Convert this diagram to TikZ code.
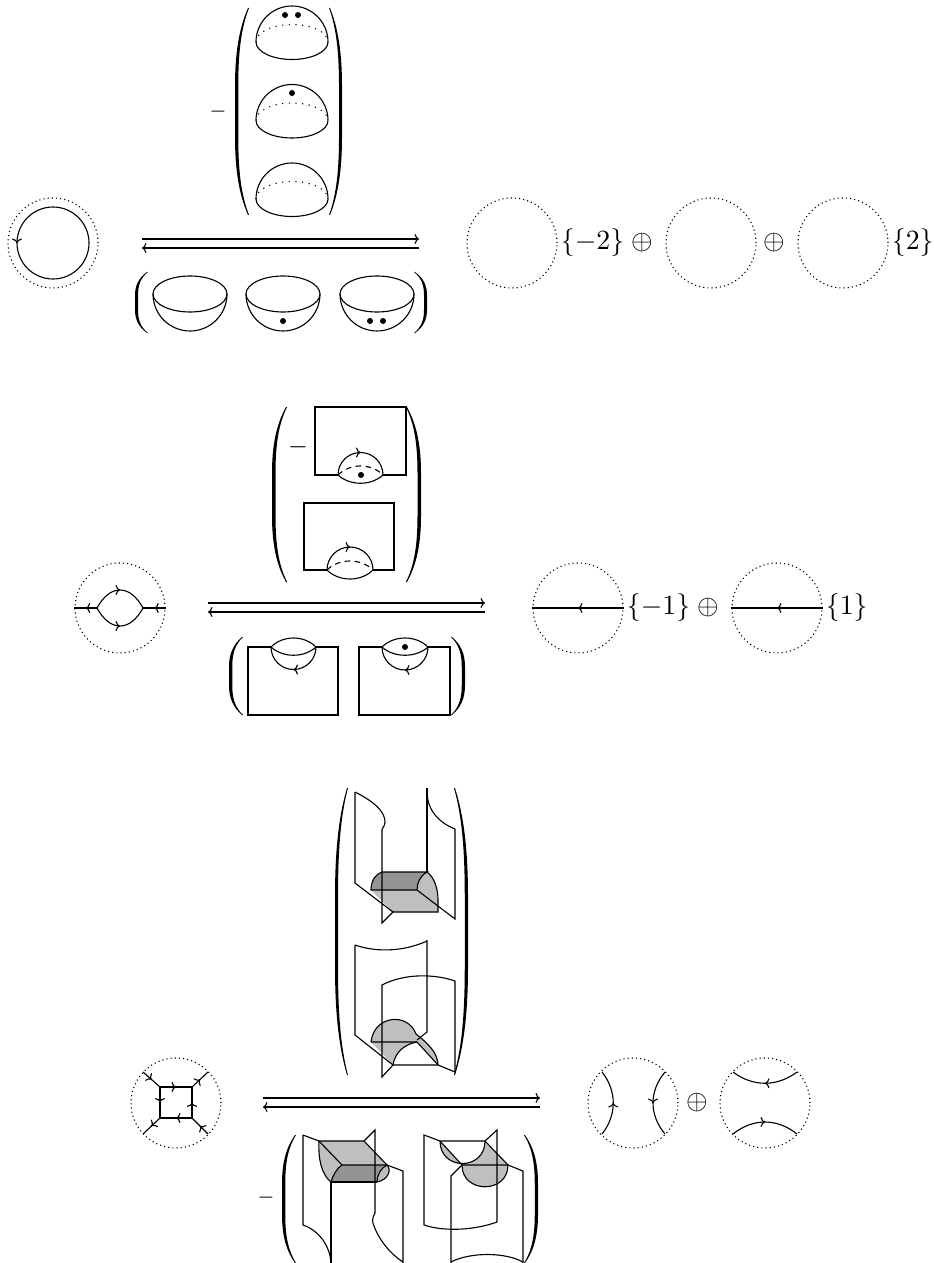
\documentclass[tikz,border=0pt]{standalone}
\usepackage{amsmath,amssymb}
\usetikzlibrary{arrows.meta,decorations.markings}

\newcommand{\bigpar}[4]{%
  \fill ({#1+#4},#2) .. controls ({#1+0.3*(#4)},{#2+0.1*(#3-#2)}) and (#1,{#2+0.22*(#3-#2)}) .. (#1,{#2+0.38*(#3-#2)})
    -- (#1,{#2+0.62*(#3-#2)}) .. controls (#1,{#2+0.78*(#3-#2)}) and ({#1+0.3*(#4)},{#2+0.9*(#3-#2)}) .. ({#1+#4},#3)
    -- ({#1+1.08*(#4)},#3) .. controls ({#1+0.45*(#4)},{#2+0.9*(#3-#2)}) and ({#1+0.25*(#4)},{#2+0.78*(#3-#2)}) .. ({#1+0.25*(#4)},{#2+0.62*(#3-#2)})
    -- ({#1+0.25*(#4)},{#2+0.38*(#3-#2)}) .. controls ({#1+0.25*(#4)},{#2+0.22*(#3-#2)}) and ({#1+0.45*(#4)},{#2+0.1*(#3-#2)}) .. ({#1+1.08*(#4)},#2) -- cycle;}

\begin{document}
\begin{tikzpicture}
			[x=0.36pt, y=-0.36pt, >={Computer Modern Rightarrow[length=1.6pt,width=3.6pt]},
			ring/.style={circle, draw, dash pattern=on .4pt off 1.1pt, minimum size=32.4pt, inner sep=0pt},
			lbl/.style={inner sep=1pt},
			midarrow/.style={postaction={decorate}, decoration={markings, mark=at position .5 with {\arrow{>}}}},
			backline/.style={dash pattern=on 2pt off 1.6pt},
			lightface/.style={fill=black!25},
			darkface/.style={fill=black!42}]
			\useasboundingbox (0,0) rectangle (933,1263);
			\begin{scope}
				\node[ring] (r1) at (53,243) {};
				\draw[postaction={decorate}, decoration={markings, mark=at position .25 with {\arrow{>}}}]
					(53,207) arc[start angle=270, end angle=-90, radius=36];
				\foreach \cy in {42,120.5,199}{
					\begin{scope}[shift={(292,\cy)}]
						\draw (-36,0) arc[start angle=180, end angle=360, radius=36];
						\draw (-36,0) arc[start angle=180, end angle=0, x radius=36, y radius=17.5];
						\draw[dotted] (-36,0) arc[start angle=180, end angle=360, x radius=36, y radius=17.5];
					\end{scope}
				}
				\fill (285,15) circle[radius=3];
				\fill (298,15) circle[radius=3];
				\fill (292,93) circle[radius=3];
				\foreach \bx in {190,283,377}{
					\begin{scope}[shift={(\bx,294)}]
						\draw (0,0) ellipse[x radius=37, y radius=18];
						\draw (-37,0) arc[start angle=180, end angle=0, radius=37];
					\end{scope}
				}
				\fill (283,321) circle[radius=3];
				\fill (370,321) circle[radius=3];
				\fill (383,321) circle[radius=3];
				\bigpar{235}{8}{215}{13}
				\bigpar{342}{8}{215}{-12}
				\bigpar{135}{272}{333}{12}
				\bigpar{427}{272}{333}{-12}
				\node (m1) at (218,112) {\scriptsize$-$};
				\coordinate (a1) at (142,239);
				\coordinate (b1) at (419,239);
				\coordinate (c1) at (142,248);
				\coordinate (d1) at (419,248);
				\draw[->] (a1) -- (b1);
				\draw[->] (d1) -- (c1);
				\node[ring] (r1a) at (512,243) {};
				\node[lbl, anchor=west] (s1a) at (r1a.east) {$\{-2\}$};
				\node (o1a) at (642,243) {$\oplus$};
				\node[ring] (r1b) at (711,243) {};
				\node (o1b) at (774,243) {$\oplus$};
				\node[ring] (r1c) at (843,243) {};
				\node[lbl, anchor=west] (s1c) at (r1c.east) {$\{2\}$};
			\end{scope}
			\begin{scope}
				\node[ring] (r2) at (120,608) {};
				\coordinate (v1) at (97,608);
				\coordinate (v2) at (143,608);
				\draw[midarrow] (v1) -- (r2.west);
				\draw[midarrow] (r2.east) -- (v2);
				\draw[midarrow] (v1) .. controls (110,584) and (130,584) .. (v2);
				\draw[midarrow] (v1) .. controls (110,632) and (130,632) .. (v2);
				\draw (338,475) -- (315,475) -- (315,407) -- (406,407) -- (406,475) -- (383,475);
				\draw[midarrow] (338,475) arc[start angle=180, end angle=360, radius=22.5];
				\draw (338,475) .. controls (350,486) and (371,486) .. (383,475);
				\draw[backline] (338,475) .. controls (350,463) and (371,463) .. (383,475);
				\fill (361,475) circle[radius=3];
				\draw (327,570) -- (304,570) -- (304,503) -- (394,503) -- (394,570) -- (373,570);
				\draw[midarrow] (327,570) arc[start angle=180, end angle=360, radius=23];
				\draw (327,570) .. controls (339,582) and (361,582) .. (373,570);
				\draw[backline] (327,570) .. controls (339,558) and (361,558) .. (373,570);
				\draw (271,647) -- (248,647) -- (248,715) -- (338,715) -- (338,647) -- (316,647);
				\draw[midarrow] (316,647) arc[start angle=0, end angle=180, radius=22.5];
				\draw (271,647) .. controls (283,635) and (304,635) .. (316,647);
				\draw (271,647) .. controls (283,658) and (304,658) .. (316,647);
				\draw (382,647) -- (359,647) -- (359,715) -- (450,715) -- (450,647) -- (428,647);
				\draw[midarrow] (428,647) arc[start angle=0, end angle=180, radius=23];
				\draw (382,647) .. controls (394,635) and (416,635) .. (428,647);
				\draw (382,647) .. controls (394,658) and (416,658) .. (428,647);
				\fill (405,647) circle[radius=3];
				\bigpar{272}{407}{582}{14}
				\bigpar{421}{407}{582}{-14}
				\bigpar{229}{637}{715}{13}
				\bigpar{465}{637}{715}{-13}
				\node (m2) at (298,447) {\small$-$};
				\coordinate (a2) at (208,603);
				\coordinate (b2) at (485,603);
				\coordinate (c2) at (208,612);
				\coordinate (d2) at (485,612);
				\draw[->] (a2) -- (b2);
				\draw[->] (d2) -- (c2);
				\node[ring] (r2a) at (578,608) {};
				\draw[midarrow] (r2a.east) -- (r2a.west);
				\node[lbl, anchor=west] (s2a) at (r2a.east) {$\{-1\}$};
				\node (o2a) at (708,608) {$\oplus$};
				\node[ring] (r2b) at (777,608) {};
				\draw[midarrow] (r2b.east) -- (r2b.west);
				\node[lbl, anchor=west] (s2b) at (r2b.east) {$\{1\}$};
			\end{scope}
			\begin{scope}
				\node[ring] (r3) at (176,1103) {};
				\coordinate (q1) at (160,1087);
				\coordinate (q2) at (192,1087);
				\coordinate (q3) at (192,1118);
				\coordinate (q4) at (160,1118);
				\coordinate (e1) at (143,1072);
				\coordinate (e2) at (208,1072);
				\coordinate (e3) at (208,1134);
				\coordinate (e4) at (143,1134);
				\draw[midarrow] (q1) -- (q2);
				\draw[midarrow] (q3) -- (q2);
				\draw[midarrow] (q3) -- (q4);
				\draw[midarrow] (q1) -- (q4);
				\draw[midarrow] (e1) -- (q1);
				\draw[midarrow] (q2) -- (e2);
				\draw[midarrow] (e3) -- (q3);
				\draw[midarrow] (q4) -- (e4);
				\fill[lightface] (371,890) -- (417,890) .. controls (417,883) and (420,876) .. (427,872)
					.. controls (434,877) and (438,888) .. (438,900) -- (438,912) -- (393,912) -- cycle;
				\fill[darkface] (382,872) -- (427,872) .. controls (420,876) and (417,883) .. (417,890)
					-- (371,890) .. controls (371,880) and (376,874) .. (382,872);
				\draw (355,792) -- (355,883) -- (393,912) -- (382,923) -- (382,832)
					.. controls (381,828) and (385,827) .. (385,822) .. controls (385,812) and (375,802) .. (355,792);
				\draw (427,788) -- (427,872);
				\draw (427,793) .. controls (428,812) and (440,823) .. (455,829) -- (455,919) -- (417,890);
				\draw (393,912) -- (438,912) -- (438,900) .. controls (438,888) and (434,877) .. (427,872);
				\draw (382,872) -- (427,872) .. controls (420,876) and (417,883) .. (417,890) -- (371,890)
					.. controls (371,880) and (376,874) .. (382,872);
				\fill[lightface] (371,1042) .. controls (374,1015) and (408,1012) .. (416,1034)
					.. controls (426,1042) and (438,1052) .. (438,1065) -- (417,1042)
					.. controls (405,1044) and (395,1052) .. (393,1065) -- cycle;
				\draw (355,945) .. controls (378,953) and (405,951) .. (427,941);
				\draw (355,945) -- (355,1035) -- (393,1065) -- (382,1077) -- (382,985)
					.. controls (405,973) and (435,974) .. (455,981) -- (455,1072) -- (438,1065) -- (393,1065);
				\draw (427,940) -- (427,1032) -- (417,1040);
				\draw (371,1042) .. controls (374,1015) and (408,1012) .. (416,1034)
					.. controls (426,1042) and (438,1052) .. (438,1065);
				\draw (371,1042) -- (417,1042) -- (438,1065);
				\draw (417,1042) .. controls (405,1044) and (395,1052) .. (393,1065);
				\bigpar{335}{788}{1075}{12}
				\bigpar{468}{788}{1075}{-13}
				\coordinate (a3) at (263,1098);
				\coordinate (b3) at (540,1098);
				\coordinate (c3) at (263,1107);
				\coordinate (d3) at (540,1107);
				\draw[->] (a3) -- (b3);
				\draw[->] (d3) -- (c3);
				\fill[lightface] (319,1141) -- (364,1141) -- (387,1165) -- (342,1165) -- cycle;
				\fill[lightface] (319,1141) .. controls (318,1160) and (322,1175) .. (331,1182)
					.. controls (333,1175) and (337,1168) .. (342,1165) -- cycle;
				\fill[darkface] (342,1165) -- (387,1165) -- (377,1182) -- (331,1182)
					.. controls (333,1175) and (337,1168) .. (342,1165);
				\fill[lightface] (387,1165) .. controls (392,1170) and (388,1180) .. (377,1182)
					.. controls (377,1175) and (381,1168) .. (387,1165);
				\draw (303,1135) -- (319,1141) -- (364,1141) -- (375,1130) -- (375,1213)
					.. controls (372,1218) and (372,1222) .. (374,1226) .. controls (380,1242) and (392,1255) .. (403,1262);
				\draw (303,1135) -- (303,1225) .. controls (318,1230) and (330,1245) .. (331,1263);
				\draw (319,1141) -- (342,1165) -- (387,1165) -- (403,1171) -- (403,1263);
				\draw (364,1141) -- (387,1165);
				\draw (331,1182) -- (331,1263);
				\draw (331,1182) -- (377,1182);
				\draw (319,1141) .. controls (318,1160) and (322,1175) .. (331,1182)
					.. controls (333,1175) and (337,1168) .. (342,1165);
				\draw (387,1165) .. controls (392,1170) and (388,1180) .. (377,1182)
					.. controls (377,1175) and (381,1168) .. (387,1165);
				\fill[lightface] (440,1141) .. controls (440,1171) and (485,1171) .. (485,1141) -- (508,1165)
					.. controls (508,1194) and (462,1194) .. (462,1165) -- cycle;
				\draw (424,1135) -- (440,1141) -- (485,1141) -- (497,1130) -- (497,1222)
					.. controls (475,1230) and (445,1232) .. (424,1225) -- cycle;
				\draw (440,1141) -- (462,1165) -- (451,1176) -- (451,1263);
				\draw (462,1165) -- (508,1165) -- (523,1171) -- (523,1263);
				\draw (485,1141) -- (508,1165);
				\draw (451,1262) .. controls (470,1252) and (505,1252) .. (523,1262);
				\draw (440,1141) .. controls (440,1171) and (485,1171) .. (485,1141);
				\draw (508,1165) .. controls (508,1194) and (462,1194) .. (462,1165);
				\bigpar{282}{1135}{1263}{13}
				\bigpar{538}{1135}{1263}{-13}
				\node (m3) at (266,1198) {\scriptsize$-$};
				\node[ring] (r3a) at (633,1103) {};
				\draw[midarrow] (602,1134) .. controls (617,1115) and (617,1091) .. (602,1072);
				\draw[midarrow] (665,1072) .. controls (649,1091) and (649,1115) .. (665,1134);
				\node (o3a) at (697,1103) {$\oplus$};
				\node[ring] (r3b) at (765,1103) {};
				\draw[midarrow] (797,1072) .. controls (777,1087) and (753,1087) .. (733,1072);
				\draw[midarrow] (733,1134) .. controls (753,1118) and (777,1118) .. (797,1134);
			\end{scope}
		\end{tikzpicture}
\end{document}
